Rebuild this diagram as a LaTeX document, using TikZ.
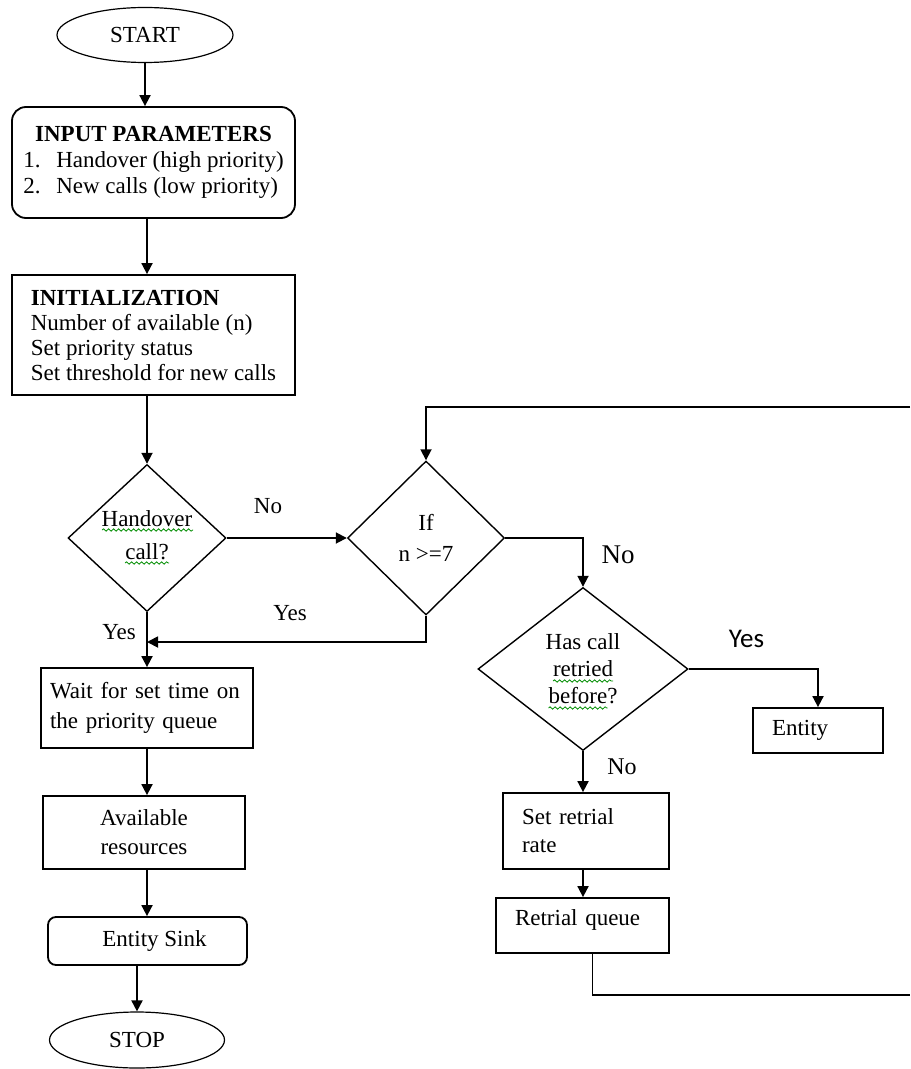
\documentclass[tikz,border=0pt]{standalone}
\usepackage{fontspec}
\setmainfont{Liberation Serif}
\newfontfamily\labelfont{Carlito}
\usetikzlibrary{shapes.geometric,arrows.meta,decorations.pathmorphing}

\begin{document}
\begin{tikzpicture}[x=0.5pt,y=-0.5pt,line width=0.9pt,
 >={Triangle[length=5.5pt,width=5.5pt]},
 every node/.style={font=\fontsize{11.5}{13}\selectfont,inner sep=0pt},
 term/.style={draw,ellipse,line width=0.6pt,minimum width=88pt,minimum height=27.5pt},
 procbox/.style={draw,rectangle},
 decision/.style={draw,diamond,line width=0.7pt,align=center},
 squig/.style={green!55!black,line width=0.4pt,decorate,
   decoration={snake,amplitude=0.6pt,segment length=2.5pt}}]
 \useasboundingbox (0,0) rectangle (910,1069);

 % left column
 \node[term] (start) at (145,35) {START};
 \node[procbox,rounded corners=7pt,minimum width=141.5pt,minimum height=55.5pt] (input) at (153.5,162.5)
   {\begin{tabular}{@{}l@{}}
    \multicolumn{1}{@{}c@{}}{\bfseries INPUT PARAMETERS}\\
    \makebox[16.5pt][l]{1.}Handover (high priority)\\
    \makebox[16.5pt][l]{2.}New calls (low priority)
    \end{tabular}};
 \node[procbox,minimum width=141.5pt,minimum height=60pt,align=left,
   font=\fontsize{11.5}{12.5}\selectfont] (init) at (153.5,335)
   {\textbf{INITIALIZATION}\\Number of available (n)\\Set priority status\\Set threshold for new calls};
 \node[decision,minimum width=79pt,minimum height=73.5pt,text depth=3pt,
   font=\fontsize{11.5}{16.5}\selectfont] (hand) at (147,538) {Handover\\call?};
 \node[procbox,minimum width=106pt,minimum height=40pt,text width=97pt,align=left,
   font=\fontsize{11.5}{15}\selectfont] (wait) at (147,708) {Wait for set time on\\the priority queue};
 \node[procbox,minimum width=101pt,minimum height=36.5pt,align=center,
   font=\fontsize{11.5}{14.5}\selectfont] (avail) at (144,832.5) {Available\\resources};
 \node[procbox,rounded corners=4pt,minimum width=99.5pt,minimum height=24pt] (sink) at (147.5,941)
   {\hspace*{7pt}Entity Sink};
 \node[term,minimum width=87.5pt,minimum height=28pt] (stop) at (137,1040) {STOP};

 % right part
 \node[decision,minimum width=78.5pt,minimum height=77pt,
   font=\fontsize{11.5}{15.5}\selectfont] (ifn) at (426,538) {If\\n >=7};
 \node[decision,minimum width=105pt,minimum height=81.5pt,
   font=\fontsize{11.5}{13.5}\selectfont] (retried) at (583,669) {Has call\\retried\\before?};
 \node[procbox,minimum width=65pt,minimum height=22.5pt,text width=46pt,align=left] (entity) at (818,730.5) {Entity};
 \node[procbox,minimum width=83pt,minimum height=38pt,text width=64pt,align=left,
   font=\fontsize{11.5}{14}\selectfont] (setrate) at (586,831) {Set retrial\\rate};
 \node[procbox,minimum width=86.5pt,minimum height=27.5pt,text width=67.5pt,align=left,
   text height=8pt,text depth=8.5pt] (rqueue) at (582.5,925.5) {Retrial queue};

 % branch labels
 \node (no1) at (268,506) {No};
 \node (yes1) at (290,613) {Yes};
 \node (yes2) at (119,632) {Yes};
 \node[font=\fontsize{13.5}{15}\selectfont] (no2) at (618,555) {No};
 \node[font=\labelfont\fontsize{13.5}{15}\selectfont] (yes3) at (746.5,639) {Yes};
 \node[font=\fontsize{12}{14}\selectfont] (no3) at (622,767) {No};

 \coordinate (yesjoin) at (147,642);
 \coordinate (topright) at (910,407);
 \coordinate (lowright) at (910,995);

 \draw[->] (start.south) -- (start.south |- input.north);
 \draw[->] (input.south -| hand.north) -- (init.north -| hand.north);
 \draw[->] (init.south -| hand.north) -- (hand.north);
 \draw[->] (hand.east) -- (ifn.west);
 \draw[->] (hand.south) -- (wait.north);
 \draw[->] (ifn.south) |- (yesjoin);
 \draw[->] (wait.south) -- (wait.south |- avail.north);
 \draw[->] (avail.south -| wait.south) -- (sink.north -| wait.south);
 \draw[->] (sink.south -| stop.north) -- (stop.north);
 \draw[->] (ifn.east) -| (retried.north);
 \draw[->] (retried.east) -| (entity.north);
 \draw[->] (retried.south) -- (retried.south |- setrate.north);
 \draw[->] (setrate.south -| retried.south) -- (rqueue.north -| retried.south);
 \draw ([xshift=5pt]rqueue.south) |- (lowright);
 \draw[->] (topright) -| (ifn.north);

 % spell-check marks
 \draw[squig] ([shift={(-45,-8)}]hand.center) -- ++(91,0);
 \draw[squig] ([shift={(-22,25)}]hand.center) -- ++(44,0);
 \draw[squig] ([shift={(-30,12)}]retried.center) -- ++(60,0);
 \draw[squig] ([shift={(-34.5,39)}]retried.center) -- ++(59,0);
\end{tikzpicture}
\end{document}
